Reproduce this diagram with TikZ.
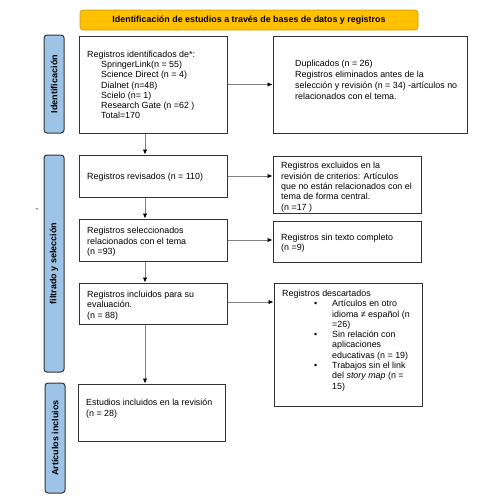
\documentclass[tikz,border=0pt]{standalone}
\usepackage{fontspec}
\setmainfont{Liberation Sans}
\usetikzlibrary{arrows.meta,positioning}
\definecolor{banner}{HTML}{FFC000}
\definecolor{bannerline}{HTML}{C99A10}
\definecolor{sidefill}{HTML}{9DC3E6}
\tikzset{
    box/.style ={
        shape=rectangle,
        draw=black!80,
        line width=1pt,
        minimum width=148pt,
        inner sep=0pt
    },
    txt/.style ={
        anchor=north west,
        align=left,
        inner sep=0pt,
        font=\fontsize{8.9}{10.3}\selectfont
    },
    side/.style ={
        shape=rectangle,
        rounded corners=3pt,
        draw=black!80,
        line width=1pt,
        fill=sidefill,
        minimum width=20pt,
        inner sep=0pt
    },
    sidetxt/.style ={
        rotate=90,
        inner sep=0pt,
        font=\fontsize{9}{10}\selectfont\bfseries
    },
    arr/.style ={
        draw=black!50,
        line width=0.8pt,
        -{Latex[length=5pt,width=4.5pt,color=black]}
    }
}

\begin{document}
\begin{tikzpicture}[x=1pt,y=-1pt]
    \useasboundingbox (0,0) rectangle (497,504);
    \node[shape=rectangle, rounded corners=3pt, draw=bannerline, line width=0.6pt, fill=banner,
          minimum width=338pt, minimum height=20pt, inner sep=0pt,
          font=\fontsize{8.9}{10}\selectfont\bfseries] (head) at(249,20)
        {Identificación de estudios a través de bases de datos y registros};

    \node[side, minimum height=98pt] (sideid) at(54,84) {};
    \node[side, minimum height=217pt] (sidefilt) at(54,263.5) {};
    \node[side, minimum height=110pt] (sideart) at(55,438) {};
    \node[sidetxt] (sideidtxt) at(sideid) {Identificación};
    \node[sidetxt] (sidefilttxt) at(sidefilt) {filtrado y selección};
    \node[sidetxt] (sidearttxt) at(sideart) {Artículos incluios};
    \node[inner sep=0pt, font=\fontsize{8}{10}\selectfont] (dash) at(37,210) {-};

    \node[box, minimum height=97pt] (ident) at(153,84.5) {};
    \node[box, minimum width=194pt, minimum height=97pt] (dupl) at(370,84.5) {};
    \node[box, minimum height=42pt] (revis) at(153,176) {};
    \node[box, minimum height=57pt] (exclu) at(347,184.5) {};
    \node[box, minimum height=42pt] (selec) at(153,240) {};
    \node[box, minimum height=41pt] (sintx) at(347,241.5) {};
    \node[box, minimum height=41pt] (inclu) at(153,303.5) {};
    \node[box, minimum height=123pt] (desca) at(348,344.5) {};
    \node[box, minimum width=147pt, minimum height=57pt] (estud) at(151.5,412.5) {};

    \node[txt] (identtxt) at(87,50.5) {Registros identificados de*:\\
        \hspace*{14pt}SpringerLink(n = 55)\\
        \hspace*{14pt}Science Direct (n = 4)\\
        \hspace*{14pt}Dialnet (n=48)\\
        \hspace*{14pt}Scielo (n= 1)\\
        \hspace*{14pt}Research Gate (n =62 )\\
        \hspace*{14pt}Total=170};
    \node[txt, font=\fontsize{8.9}{11}\selectfont] (dupltxt) at(295,60) {Duplicados (n = 26)\\
        Registros eliminados antes de la\\
        selección y revisión (n = 34) -artículos no\\
        relacionados con el tema.};
    \node[txt] (revistxt) at(87,172.5) {Registros revisados (n = 110)};
    \node[txt] (exclutxt) at(281,162.2) {Registros excluidos en la\\
        revisión de criterios: Artículos\\
        que no están relacionados con el\\
        tema de forma central.\\
        (n =17 )};
    \node[txt] (selectxt) at(87,227.2) {Registros seleccionados\\
        relacionados con el tema\\
        (n =93)};
    \node[txt] (sintxtxt) at(281,233.8) {Registros sin texto completo\\
        (n =9)};
    \node[txt] (inclutxt) at(87,290.8) {Registros incluidos para su\\
        evaluación.\\
        (n = 88)};
    \node[txt] (descatxt) at(282,289.8) {Registros descartados\\
        \hspace*{32pt}\makebox[18pt][l]{\textbullet}Artículos en otro\\
        \hspace*{50pt}idioma ≠ español (n\\
        \hspace*{50pt}=26)\\
        \hspace*{32pt}\makebox[18pt][l]{\textbullet}Sin relación con\\
        \hspace*{50pt}aplicaciones\\
        \hspace*{50pt}educativas (n = 19)\\
        \hspace*{32pt}\makebox[18pt][l]{\textbullet}Trabajos sin el link\\
        \hspace*{50pt}del \textit{story map} (n =\\
        \hspace*{50pt}15)};
    \node[txt] (estudtxt) at(86,399.2) {Estudios incluidos en la revisión\\
        (n = 28)};

    \coordinate (spine) at(145,0);
    \draw[arr] (ident.south -| spine) -- (revis.north -| spine);
    \draw[arr] (revis.south -| spine) -- (selec.north -| spine);
    \draw[arr] (selec.south -| spine) -- (inclu.north -| spine);
    \draw[arr] (inclu.south -| spine) -- (estud.north -| spine);
    \draw[arr] (ident.east) -- (dupl.west);
    \draw[arr] (revis.east) -- (revis.east -| exclu.west);
    \draw[arr] (selec.east) -- (selec.east -| sintx.west);
    \draw[arr] ([yshift=1.5pt]inclu.east) -- ([yshift=1.5pt]inclu.east -| desca.west);
\end{tikzpicture}
\end{document}
